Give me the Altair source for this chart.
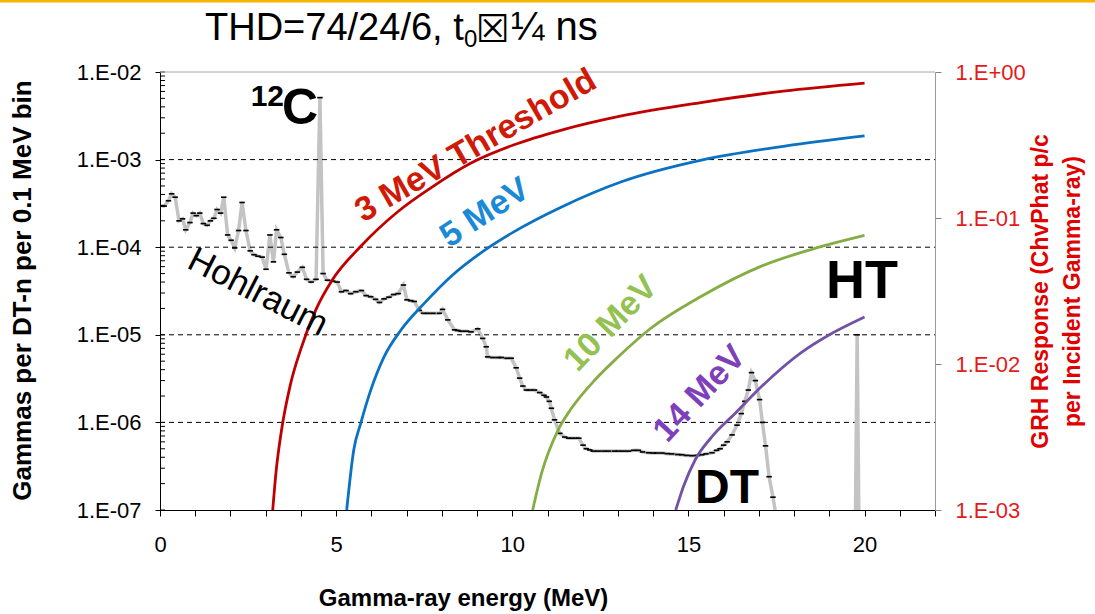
import altair as alt
import pandas as pd

FONT = "Liberation Sans"

# ---------------- data ----------------
# Hohlraum gamma spectrum (gammas per DT-n per 0.1 MeV bin), incl. 12C line and DT peak
hohl_e = [0.05, 0.12, 0.24, 0.33, 0.43, 0.54, 0.64, 0.73, 0.85, 0.94,
          1.03, 1.13, 1.23, 1.34, 1.43, 1.53, 1.62, 1.72, 1.81, 1.92,
          2.02, 2.12, 2.23, 2.33, 2.44, 2.56, 2.67, 2.78, 2.90, 3.01,
          3.12, 3.22, 3.31, 3.43, 3.53, 3.66, 3.78, 3.90, 4.04, 4.16,
          4.29, 4.43, 4.54, 4.63, 4.75, 4.90, 5.03, 5.15, 5.28, 5.41,
          5.56, 5.72, 5.85, 5.98, 6.12, 6.23, 6.36, 6.50, 6.63, 6.76,
          6.91, 7.01, 7.12, 7.22, 7.36, 7.48, 7.60, 7.75, 7.93, 8.02,
          8.17, 8.36, 8.45, 8.55, 8.70, 8.83, 9.02, 9.16, 9.26, 9.30,
          9.45, 9.60, 9.69, 9.85, 9.97, 10.11, 10.21, 10.30, 10.40, 10.50,
          10.63, 10.78, 10.90, 10.97, 11.05, 11.11, 11.20, 11.35, 11.49, 11.60,
          11.68, 11.80, 11.89, 12.01, 12.10, 12.20, 12.30, 12.44, 12.60, 12.73,
          12.90, 13.01, 13.15, 13.30, 13.45, 13.58, 13.70, 13.87, 14.00, 14.10,
          14.25, 14.40, 14.53, 14.70, 14.81, 14.95, 15.10, 15.25, 15.38, 15.50,
          15.67, 15.80, 15.90, 16.00, 16.10, 16.24, 16.38, 16.50, 16.60, 16.70,
          16.79, 16.90, 17.02, 17.10, 17.19, 17.29, 17.40, 17.47, 17.55]
hohl_v = [2.95e-4, 2.95e-4, 3.39e-4, 4.07e-4, 3.72e-4, 2.0e-4, 2.11e-4, 1.58e-4, 1.91e-4, 2.45e-4,
          2.29e-4, 2.45e-4, 1.86e-4, 1.78e-4, 2.0e-4, 2.14e-4, 2.69e-4, 2.45e-4, 3.72e-4, 1.38e-4,
          1.20e-4, 9.8e-5, 1.55e-4, 3.24e-4, 1.55e-4, 9.1e-5, 8.2e-5, 7.9e-5, 7.7e-5, 5.6e-5,
          1.38e-4, 6.8e-5, 1.58e-4, 1.29e-4, 8.3e-5, 5.1e-5, 4.6e-5, 5.2e-5, 5.9e-5, 4.3e-5,
          4.0e-5, 4.3e-5, 5.1e-3, 5.0e-5, 4.2e-5, 4.1e-5, 4.0e-5, 3.1e-5, 3.2e-5, 2.95e-5,
          3.1e-5, 3.2e-5, 2.8e-5, 2.72e-5, 2.54e-5, 2.34e-5, 2.57e-5, 2.69e-5, 2.88e-5, 2.95e-5,
          3.7e-5, 2.51e-5, 2.45e-5, 2.4e-5, 1.9e-5, 1.76e-5, 1.76e-5, 1.76e-5, 1.76e-5, 1.95e-5,
          1.48e-5, 1.14e-5, 1.12e-5, 1.1e-5, 1.1e-5, 1.08e-5, 1.17e-5, 9.1e-6, 7.3e-6, 5.6e-6,
          5.5e-6, 5.5e-6, 5.5e-6, 5.4e-6, 5.4e-6, 4.2e-6, 3.2e-6, 2.6e-6, 2.34e-6, 2.34e-6,
          2.34e-6, 2.19e-6, 2.04e-6, 1.95e-6, 1.74e-6, 1.45e-6, 1.07e-6, 7.5e-7, 6.8e-7, 6.6e-7,
          6.6e-7, 6.6e-7, 6.6e-7, 5.5e-7, 5.0e-7, 4.85e-7, 4.7e-7, 4.7e-7, 4.7e-7, 4.7e-7,
          4.7e-7, 4.7e-7, 4.7e-7, 4.7e-7, 4.8e-7, 4.8e-7, 4.6e-7, 4.5e-7, 4.47e-7, 4.47e-7,
          4.47e-7, 4.4e-7, 4.37e-7, 4.3e-7, 4.27e-7, 4.2e-7, 4.17e-7, 4.2e-7, 4.27e-7, 4.37e-7,
          4.5e-7, 4.8e-7, 5.0e-7, 5.5e-7, 6.0e-7, 7.2e-7, 9.3e-7, 1.26e-6, 1.74e-6, 2.34e-6,
          3.7e-6, 3.0e-6, 1.82e-6, 1.0e-6, 5.4e-7, 2.4e-7, 1.4e-7, 9.5e-8, 6.3e-8]

# HT line
ht_e = [19.72, 19.79, 19.86]
ht_v = [1.0e-8, 1.0e-5, 1.0e-8]

# GRH response curves (right axis)
r3_e = [3.20, 3.30, 3.45, 3.70, 3.99, 4.42, 4.89, 5.70, 6.74, 7.69, 8.83, 10.03, 11.4, 13.1, 15.4, 17.7, 20.0]
r3_v = [1.0e-3, 1.88e-3, 3.53e-3, 7.2e-3, 1.25e-2, 2.34e-2, 3.76e-2, 6.4e-2, 0.110, 0.161, 0.238, 0.316, 0.40, 0.50, 0.62, 0.74, 0.84]
r5_e = [5.30, 5.50, 5.70, 5.98, 6.36, 6.84, 7.50, 8.26, 9.21, 10.03, 11.4, 13.1, 15.4, 17.7, 20.0]
r5_v = [1.0e-3, 2.58e-3, 3.94e-3, 6.6e-3, 1.12e-2, 1.71e-2, 2.6e-2, 3.98e-2, 6.0e-2, 8.0e-2, 0.119, 0.177, 0.25, 0.31, 0.365]
r10_e = [10.58, 10.83, 11.30, 11.68, 12.35, 13.01, 13.87, 15.38, 17.09, 18.5, 20.0]
r10_v = [1.0e-3, 1.78e-3, 3.53e-3, 4.97e-3, 7.8e-3, 1.12e-2, 1.71e-2, 2.92e-2, 4.7e-2, 6.1e-2, 7.6e-2]
r14_e = [14.64, 14.86, 15.19, 15.67, 16.33, 17.09, 18.23, 18.99, 20.0]
r14_v = [1.0e-3, 1.45e-3, 2.2e-3, 3.18e-3, 4.6e-3, 7.06e-3, 1.21e-2, 1.58e-2, 2.1e-2]

curve_names = ["3 MeV Threshold", "5 MeV", "10 MeV", "14 MeV"]
curve_colors = ["#c00000", "#0b72c2", "#86ad44", "#7152a3"]

# axis tick values
x_tick_values = list(range(0, 23))
left_major = [1e-7, 1e-6, 1e-5, 1e-4, 1e-3, 1e-2]
minor_mult = [2, 3, 4, 5, 6, 7, 8, 9]
left_minor = [m * d for d in left_major[:-1] for m in minor_mult]
grid_values = [1e-3, 1e-4, 1e-5, 1e-6]
right_tick_values = [1e-3, 1e-2, 1e-1, 1.0]

# ---------------- layout ----------------
W, H = 775, 438
PL, PT = 160, 72

hohl_df = pd.DataFrame({"e": hohl_e, "v": hohl_v})
ht_df = pd.DataFrame({"e": ht_e, "v": ht_v})
resp_df = pd.concat([
    pd.DataFrame({"e": r3_e, "r": r3_v, "curve": curve_names[0]}),
    pd.DataFrame({"e": r5_e, "r": r5_v, "curve": curve_names[1]}),
    pd.DataFrame({"e": r10_e, "r": r10_v, "curve": curve_names[2]}),
    pd.DataFrame({"e": r14_e, "r": r14_v, "curve": curve_names[3]}),
], ignore_index=True)
dummy = pd.DataFrame({"a": [0]})

x_scale = alt.Scale(domain=[0, 22], nice=False, zero=False)
left_scale = alt.Scale(type="log", domain=[1e-7, 1e-2], nice=False)
right_scale = alt.Scale(type="log", domain=[1e-3, 1.0], nice=False)

x_axis = alt.Axis(
    values=x_tick_values, format="d",
    labelExpr="datum.value % 5 == 0 ? datum.label : ''",
    title="Gamma-ray energy (MeV)", grid=False,
    domainColor="black", tickColor="black", tickSize=6,
    labelFont=FONT, labelFontSize=22, labelColor="black", labelPadding=18,
    labelFlush=False, labelOverlap=False,
    titleFont=FONT, titleFontSize=24, titleFontWeight="bold", titleColor="black",
    titleX=303, titleY=88, titleAlign="center", titleBaseline="middle",
)
left_axis = alt.Axis(
    values=left_major,
    labelExpr="'1.E-0' + (-round(log(datum.value)/LN10))",
    title="Gammas per DT-n  per 0.1 MeV bin", grid=False,
    domainColor="black", tickColor="black", tickSize=5,
    labelFont=FONT, labelFontSize=22, labelColor="black", labelPadding=14,
    labelOverlap=False,
    titleFont=FONT, titleFontSize=26, titleFontWeight="bold", titleColor="black",
    titleAngle=270, titleX=-138, titleY=218, titleAlign="center", titleBaseline="middle",
)
right_axis = alt.Axis(
    orient="right", values=right_tick_values,
    labelExpr="datum.value > 0.5 ? '1.E+00' : '1.E-0' + (-round(log(datum.value)/LN10))",
    title=["GRH Response  (ChvPhat p/c", "per Incident Gamma-ray)"], grid=False,
    domainColor="#9a9a9a", tickColor="#808080", tickSize=6,
    labelFont=FONT, labelFontSize=22, labelColor="#e31b1b", labelPadding=14,
    labelOverlap=False,
    titleFont=FONT, titleFontSize=23, titleFontWeight="bold", titleColor="#e00000",
    titleAngle=270, titleX=105, titleY=219, titleAlign="center", titleBaseline="middle",
    titleLineHeight=32,
)

DASH = "M-1,-0.3L1,-0.3L1,0.3L-1,0.3Z"

X = alt.X("e:Q", scale=x_scale, axis=x_axis)
YL = alt.Y("v:Q", scale=left_scale, axis=left_axis)

grid = alt.Chart(pd.DataFrame({"v": grid_values})).mark_rule(
    color="black", strokeWidth=1, strokeDash=[5, 4]
).encode(y=YL, x=alt.value(0), x2=alt.value(W))

# inner minor ticks of the left log axis
inner_ticks = alt.Chart(pd.DataFrame({"v": left_major + left_minor})).mark_rule(
    color="black", strokeWidth=1
).encode(y=YL, x=alt.value(0), x2=alt.value(5))

hohl_line = alt.Chart(hohl_df).mark_line(color="#c3c3c3", strokeWidth=3.5, clip=True).encode(x=X, y=YL)
hohl_pts = alt.Chart(hohl_df).mark_point(
    shape=DASH, filled=True, color="black", size=30, opacity=1, clip=True
).encode(x=X, y=YL)
ht_line = alt.Chart(ht_df).mark_line(color="#c3c3c3", strokeWidth=3.5, clip=True).encode(x=X, y=YL)
ht_pts = alt.Chart(ht_df).mark_point(
    shape=DASH, filled=True, color="black", size=30, opacity=1, clip=True
).encode(x=X, y=YL)

left = alt.layer(hohl_line, grid, inner_ticks, hohl_pts, ht_line, ht_pts)

resp = alt.Chart(resp_df).mark_line(interpolate="monotone", strokeWidth=2.8, clip=True).encode(
    x=X,
    y=alt.Y("r:Q", scale=right_scale, axis=right_axis),
    color=alt.Color("curve:N", scale=alt.Scale(domain=curve_names, range=curve_colors), legend=None),
)


def label(text, px, py, size, color="black", weight="bold", angle=0,
          align="center", baseline="middle", font=FONT):
    kw = dict(text=text, fontSize=size, fontWeight=weight, color=color,
              align=align, baseline=baseline, font=font)
    if angle:
        kw["angle"] = angle
    return alt.Chart(dummy).mark_text(**kw).encode(x=alt.value(px - PL), y=alt.value(py - PT))


texts = [
    label("THD=74/24/6, t", 205, 40, 38, weight="normal", align="left", baseline="alphabetic"),
    label("0", 464, 47, 24, weight="normal", align="left", baseline="alphabetic"),
    label("\u2612", 476, 42, 38, weight="normal", align="left", baseline="alphabetic", font="DejaVu Sans"),
    label("\u00bc ns", 511, 40, 40, weight="normal", align="left", baseline="alphabetic"),
    label("12", 284, 106, 30, align="right", baseline="alphabetic"),
    label("C", 282, 124, 50, align="left", baseline="alphabetic"),
    label("Hohlraum", 258, 292, 35, weight="normal", angle=27),
    label("3 MeV Threshold", 476, 146, 34, color="#d01a08", angle=330),
    label("5 MeV", 485, 213, 34, color="#1a8ad6", angle=327),
    label("10 MeV", 611, 324, 34, color="#93c152", angle=314),
    label("14 MeV", 700, 394, 34, color="#7e3fba", angle=313),
    label("DT", 727, 503, 48, align="center", baseline="alphabetic"),
    label("HT", 862, 298, 54, align="center", baseline="alphabetic"),
]

top_band = alt.Chart(dummy).mark_rule(color="#f8b600", strokeWidth=3).encode(
    x=alt.value(-PL), x2=alt.value(1095 - PL), y=alt.value(1 - PT))
top_border = alt.Chart(dummy).mark_rule(color="#a6a6a6", strokeWidth=1).encode(
    x=alt.value(0), x2=alt.value(W), y=alt.value(0))

chart = alt.layer(left, resp, top_border, top_band, *texts).resolve_scale(
    y="independent"
).properties(
    width=W, height=H,
    padding={"left": PL, "top": PT, "right": 1095 - PL - W, "bottom": 614 - PT - H},
    autosize=alt.AutoSizeParams(type="none"),
).configure_view(stroke=None)

chart.save("out.html", embed_options={"renderer": "svg", "actions": False})
